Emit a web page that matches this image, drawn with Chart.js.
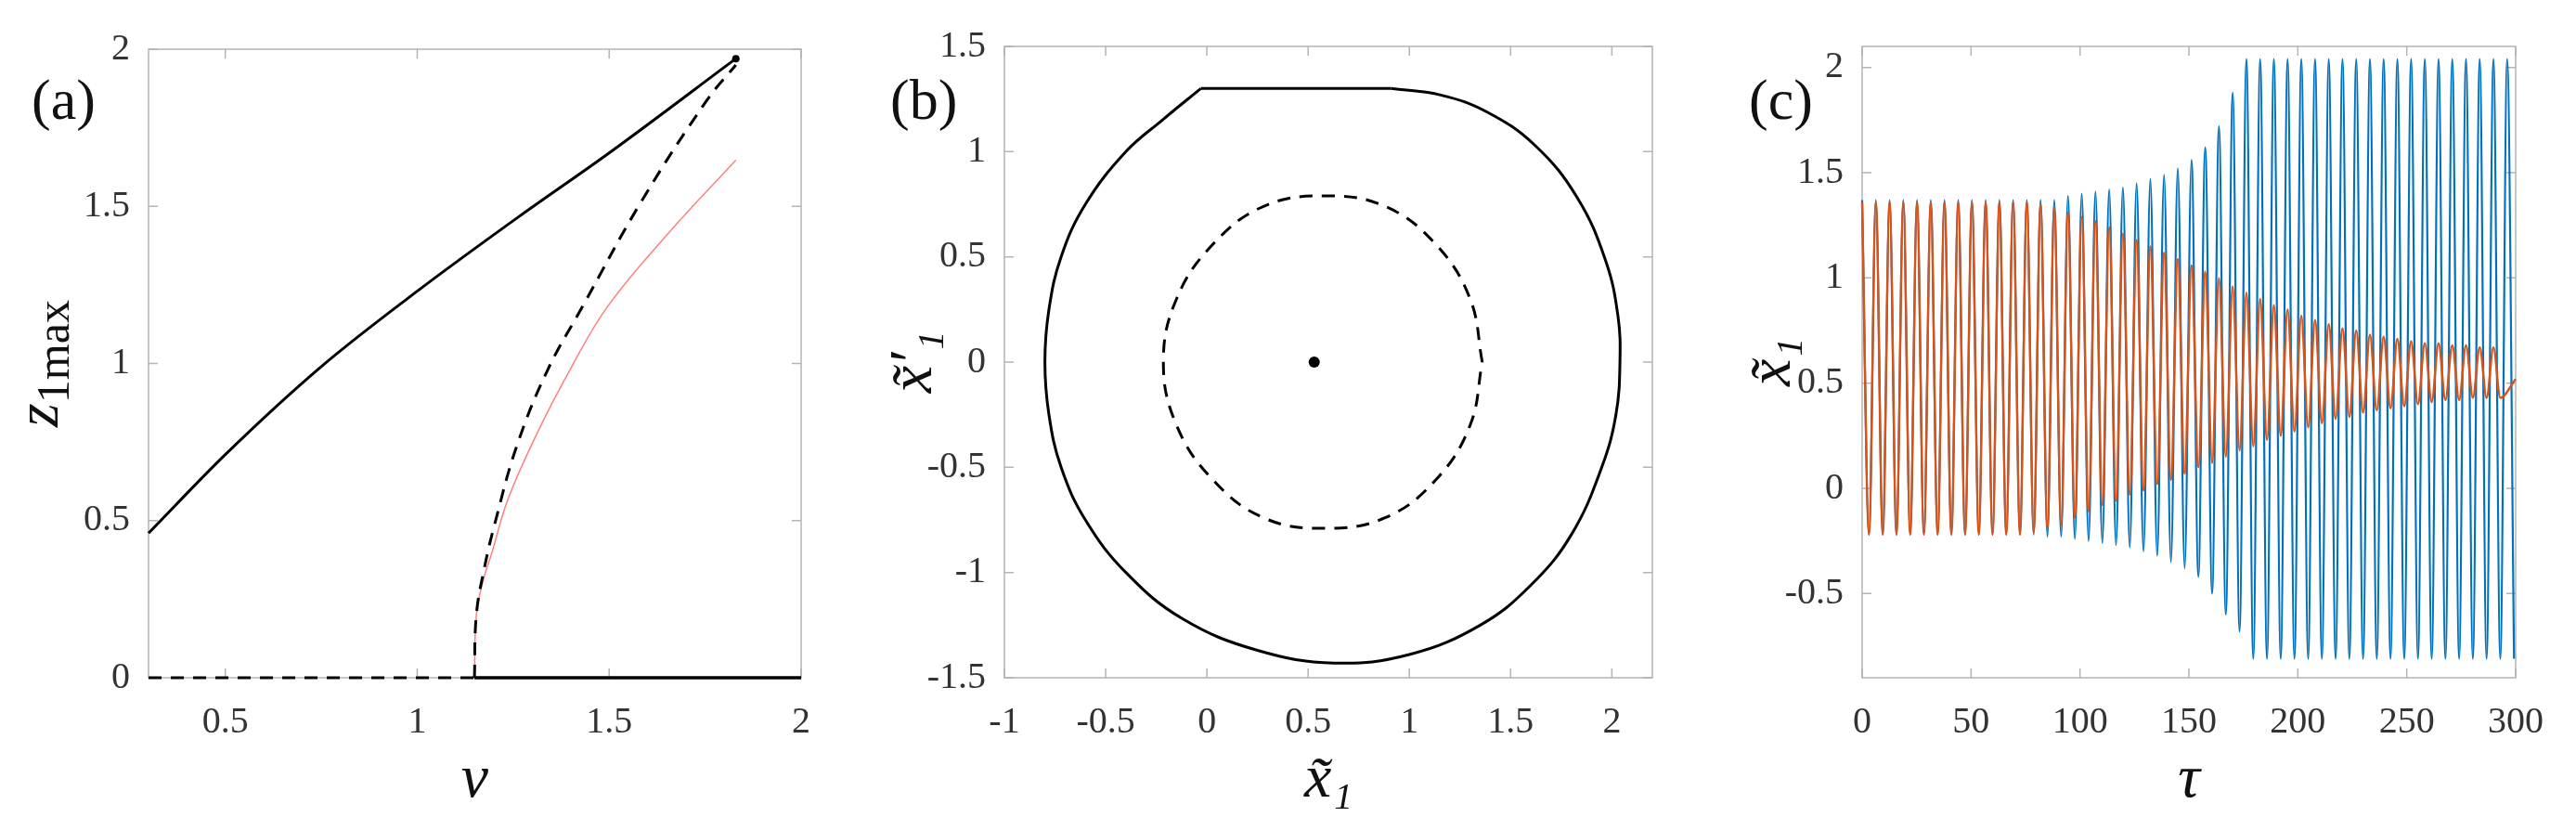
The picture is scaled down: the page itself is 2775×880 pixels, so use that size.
<!DOCTYPE html>
<html>
<head>
<meta charset="utf-8">
<script src="https://cdn.jsdelivr.net/npm/chart.js@4.4.0/dist/chart.umd.min.js"></script>
<style>
  body { margin: 0; background: #fff; }
  .panel { position: absolute; top: 0; width: 925px; height: 880px; }
</style>
</head>
<body>
<div class="panel" style="left:0"><canvas id="chartA" width="925" height="880"></canvas></div>
<div class="panel" style="left:925px"><canvas id="chartB" width="925" height="880"></canvas></div>
<div class="panel" style="left:1850px"><canvas id="chartC" width="925" height="880"></canvas></div>
<script>
// ---- panel (a): branches z1max vs v ----
const aUpperV = [0.3, 0.5, 0.75, 1.0, 1.268, 1.5, 1.83];
const aUpperZ = [0.46, 0.71, 0.99, 1.23, 1.47, 1.67, 1.97];
const aDashedV = [1.149, 1.154, 1.175, 1.202, 1.26, 1.34, 1.43, 1.585, 1.756, 1.83];
const aDashedZ = [0, 0.2, 0.35, 0.49, 0.74, 0.98, 1.18, 1.518, 1.84, 1.95];
const aRedV = [1.149, 1.154, 1.172, 1.195, 1.237, 1.317, 1.398, 1.495, 1.651, 1.83];
const aRedZ = [0, 0.2, 0.31, 0.40, 0.57, 0.79, 0.98, 1.18, 1.41, 1.647];
const aZeroDashedV = [0.3, 1.149];
const aZeroSolidV = [1.149, 2.0];
const aTicksX = [0.5, 1, 1.5, 2];

// ---- panel (b): phase portrait ----
const bTopX = [-0.03, 0.91];
const bTopY = [1.3, 1.3];
const bOuterX = [0.91, 1.15, 1.38, 1.62, 1.83, 1.97, 2.03, 2.04, 2.02, 1.95, 1.8, 1.6, 1.35, 1.0, 0.63, 0.25, -0.12, -0.40, -0.60, -0.72, -0.78, -0.80, -0.78, -0.72, -0.60, -0.40, -0.22, -0.03];
const bOuterY = [1.3, 1.27, 1.19, 1.03, 0.78, 0.48, 0.22, 0, -0.25, -0.5, -0.82, -1.06, -1.25, -1.39, -1.43, -1.37, -1.22, -1.0, -0.75, -0.5, -0.25, 0, 0.25, 0.5, 0.75, 1.0, 1.15, 1.3];
const bInnerX = [1.36, 1.3, 1.13, 0.88, 0.58, 0.28, 0.03, -0.15, -0.215, -0.15, 0.03, 0.28, 0.58, 0.88, 1.13, 1.3, 1.36];
const bInnerY = [0, 0.3, 0.56, 0.74, 0.79, 0.74, 0.56, 0.3, 0, -0.3, -0.56, -0.74, -0.79, -0.74, -0.56, -0.3, 0];
const bFixedPoint = [0.53, 0];
const bTicksX = [-1, -0.5, 0, 0.5, 1, 1.5, 2];

// ---- panel (c): time series, extrema per cycle ----
const cPeriod = 6.3;
const cBlueTops = [1.37,1.37,1.37,1.37,1.37,1.37,1.37,1.37,1.37,1.37,1.37,1.37,1.37,1.37,1.37,
  1.39,1.40,1.41,1.42,1.43,1.45,1.47,1.49,1.52,1.56,1.62,1.72,1.88,
  2.04,2.04,2.04,2.04,2.04,2.04,2.04,2.04,2.04,2.04,2.04,2.04,2.04,2.04,2.04,2.04,2.04,2.04,2.04,2.04];
const cBlueBottoms = [-0.22,-0.22,-0.22,-0.22,-0.22,-0.22,-0.22,-0.22,-0.22,-0.22,-0.22,-0.22,-0.22,
  -0.23,-0.23,-0.24,-0.25,-0.26,-0.27,-0.28,-0.30,-0.32,-0.35,-0.38,-0.42,-0.50,-0.60,-0.68,
  -0.81,-0.81,-0.81,-0.81,-0.81,-0.81,-0.81,-0.81,-0.81,-0.81,-0.81,-0.81,-0.81,-0.81,-0.81,-0.81,-0.81,-0.81,-0.81,-0.81];
const cRedTops = [1.36,1.36,1.36,1.36,1.36,1.36,1.36,1.36,1.36,1.36,1.36,1.36,1.36,
  1.35,1.33,1.31,1.29,1.27,1.24,1.21,1.18,1.15,1.12,1.09,1.06,1.03,1.00,0.96,0.93,0.90,0.87,0.85,
  0.82,0.80,0.78,0.76,0.75,0.73,0.72,0.71,0.70,0.69,0.69,0.68,0.68,0.67,0.67];
const cRedBottoms = [-0.22,-0.22,-0.22,-0.22,-0.22,-0.22,-0.22,-0.22,-0.22,-0.22,-0.22,-0.22,
  -0.21,-0.19,-0.17,-0.14,-0.11,-0.08,-0.06,-0.03,-0.01,0.02,0.04,0.07,0.10,0.12,0.15,0.18,0.20,
  0.23,0.25,0.27,0.29,0.31,0.33,0.34,0.36,0.37,0.38,0.39,0.40,0.41,0.42,0.42,0.43,0.43,0.43];
const cRedEnd = [300, 0.52];
const cTicksY = [-0.5, 0, 0.5, 1, 1.5, 2];

const SERIF = '"Times New Roman", "Liberation Serif", "DejaVu Serif", serif';

function pts(xs, ys) { return xs.map((x, i) => ({ x: x, y: ys[i] })); }

function cycles(tops, bottoms) {
  const out = [];
  for (let k = 0; k < tops.length; k++) {
    out.push({ x: k * cPeriod, y: tops[k] });
    if (k < bottoms.length) out.push({ x: (k + 0.5) * cPeriod, y: bottoms[k] });
  }
  return out;
}

// box + inward tick marks under the data, titles and panel letter on top
const framePlugin = {
  id: 'frame',
  beforeDatasetsDraw(chart) {
    const c = chart.ctx, a = chart.chartArea;
    const sx = chart.scales.x, sy = chart.scales.y;
    c.save();
    c.strokeStyle = '#b4b4b4';
    c.lineWidth = 1.5;
    c.strokeRect(a.left, a.top, a.right - a.left, a.bottom - a.top);
    c.beginPath();
    sx.ticks.forEach(t => {
      const p = sx.getPixelForValue(t.value);
      c.moveTo(p, a.bottom); c.lineTo(p, a.bottom - 10);
      c.moveTo(p, a.top); c.lineTo(p, a.top + 10);
    });
    sy.ticks.forEach(t => {
      const p = sy.getPixelForValue(t.value);
      c.moveTo(a.left, p); c.lineTo(a.left + 10, p);
      c.moveTo(a.right, p); c.lineTo(a.right - 10, p);
    });
    c.stroke();
    c.restore();
  },
  afterDraw(chart, args, opts) {
    const c = chart.ctx, a = chart.chartArea;
    c.save();
    c.fillStyle = '#111';
    c.textBaseline = 'alphabetic';
    c.font = '62px ' + SERIF;
    c.textAlign = 'left';
    c.fillText(opts.letter, 34, 128);
    // x title
    c.textAlign = 'center';
    c.font = 'italic 66px ' + SERIF;
    c.fillText(opts.xTitle, (a.left + a.right) / 2, 858);
    // y title
    c.translate(opts.yTitleX, (a.top + a.bottom) / 2);
    c.rotate(-Math.PI / 2);
    if (opts.yTitleSub) {
      c.font = 'italic 66px ' + SERIF;
      const w1 = c.measureText(opts.yTitle).width;
      c.font = '50px ' + SERIF;
      const w2 = c.measureText(opts.yTitleSub).width;
      const x0 = -(w1 + w2) / 2;
      c.textAlign = 'left';
      c.font = 'italic 66px ' + SERIF;
      c.fillText(opts.yTitle, x0, 0);
      c.font = '50px ' + SERIF;
      c.fillText(opts.yTitleSub, x0 + w1, 12);
    } else {
      c.font = 'italic 66px ' + SERIF;
      c.fillText(opts.yTitle, 0, 0);
    }
    c.restore();
  }
};

function scaleOpts(min, max, step, ticksList, isX, fitSize) {
  return {
    type: 'linear', min: min, max: max,
    grid: { display: false },
    border: { display: false },
    ticks: {
      stepSize: step,
      font: { family: SERIF, size: 40 },
      color: '#333',
      padding: isX ? 16 : 12,
      autoSkip: false,
      maxRotation: 0,
      callback: v => String(+Number(v).toFixed(2))
    },
    afterBuildTicks: ticksList ? (s => { s.ticks = ticksList.map(v => ({ value: v })); }) : undefined,
    afterFit: s => { if (isX) s.height = fitSize; else s.width = fitSize; }
  };
}

function makeChart(id, datasets, xs, ys, pad, frame) {
  return new Chart(document.getElementById(id), {
    type: 'scatter',
    data: { datasets: datasets },
    options: {
      responsive: false,
      animation: false,
      devicePixelRatio: 1,
      layout: { padding: pad },
      plugins: { legend: { display: false }, tooltip: { enabled: false }, frame: frame },
      scales: { x: xs, y: ys }
    },
    plugins: [framePlugin]
  });
}

const line = (data, color, width, dash, extra) => Object.assign({
  data: data, showLine: true, borderColor: color, borderWidth: width,
  borderDash: dash || [], pointRadius: 0, fill: false, tension: 0, clip: false
}, extra || {});

// (a)
makeChart('chartA', [
  { data: [{ x: 1.83, y: 1.97 }], pointRadius: 4, backgroundColor: '#000', borderWidth: 0 },
  line(pts(aUpperV, aUpperZ), '#000', 3, [], { cubicInterpolationMode: 'monotone' }),
  line(pts(aDashedV, aDashedZ), '#000', 3, [14, 10], { tension: 0.4 }),
  line(pts(aRedV, aRedZ), '#ff7f7f', 1.5, [], { tension: 0.4 }),
  line(pts(aZeroDashedV, [0, 0]), '#000', 3, [14, 10]),
  line(pts(aZeroSolidV, [0, 0]), '#000', 3.5)
], scaleOpts(0.3, 2, 0.5, aTicksX, true, 150), scaleOpts(0, 2, 0.5, null, false, 110),
  { left: 50, right: 62, top: 53, bottom: 0 },
  { letter: '(a)', xTitle: 'v', yTitle: 'z', yTitleSub: '1max', yTitleX: 62 });

// (b)
makeChart('chartB', [
  { data: [{ x: bFixedPoint[0], y: bFixedPoint[1] }], pointRadius: 6, backgroundColor: '#000', borderWidth: 0 },
  line(pts(bTopX, bTopY), '#000', 3),
  line(pts(bOuterX, bOuterY), '#000', 3, [], { tension: 0.4 }),
  line(pts(bInnerX, bInnerY), '#000', 3, [14, 10], { tension: 0.4 })
], scaleOpts(-1, 2.2, 0.5, bTicksX, true, 150), scaleOpts(-1.5, 1.5, 0.5, null, false, 112),
  { left: 45, right: 70, top: 50, bottom: 0 },
  { letter: '(b)', xTitle: 'x\u0303\u2081', yTitle: 'x\u0303\u2032\u2081', yTitleX: 78 });

// (c)
const cRed = cycles(cRedTops, cRedBottoms);
cRed.push({ x: cRedEnd[0], y: cRedEnd[1] });
makeChart('chartC', [
  line(cRed, '#d95319', 2.4, [], { cubicInterpolationMode: 'monotone' }),
  line(cycles(cBlueTops, cBlueBottoms), '#0072bd', 2.2, [], { cubicInterpolationMode: 'monotone' })
], scaleOpts(0, 300, 50, null, true, 150), scaleOpts(-0.9, 2.1, 0.5, cTicksY, false, 111),
  { left: 45, right: 65, top: 50, bottom: 0 },
  { letter: '(c)', xTitle: '\u03c4', yTitle: 'x\u0303\u2081', yTitleX: 78 });
</script>
</body>
</html>
